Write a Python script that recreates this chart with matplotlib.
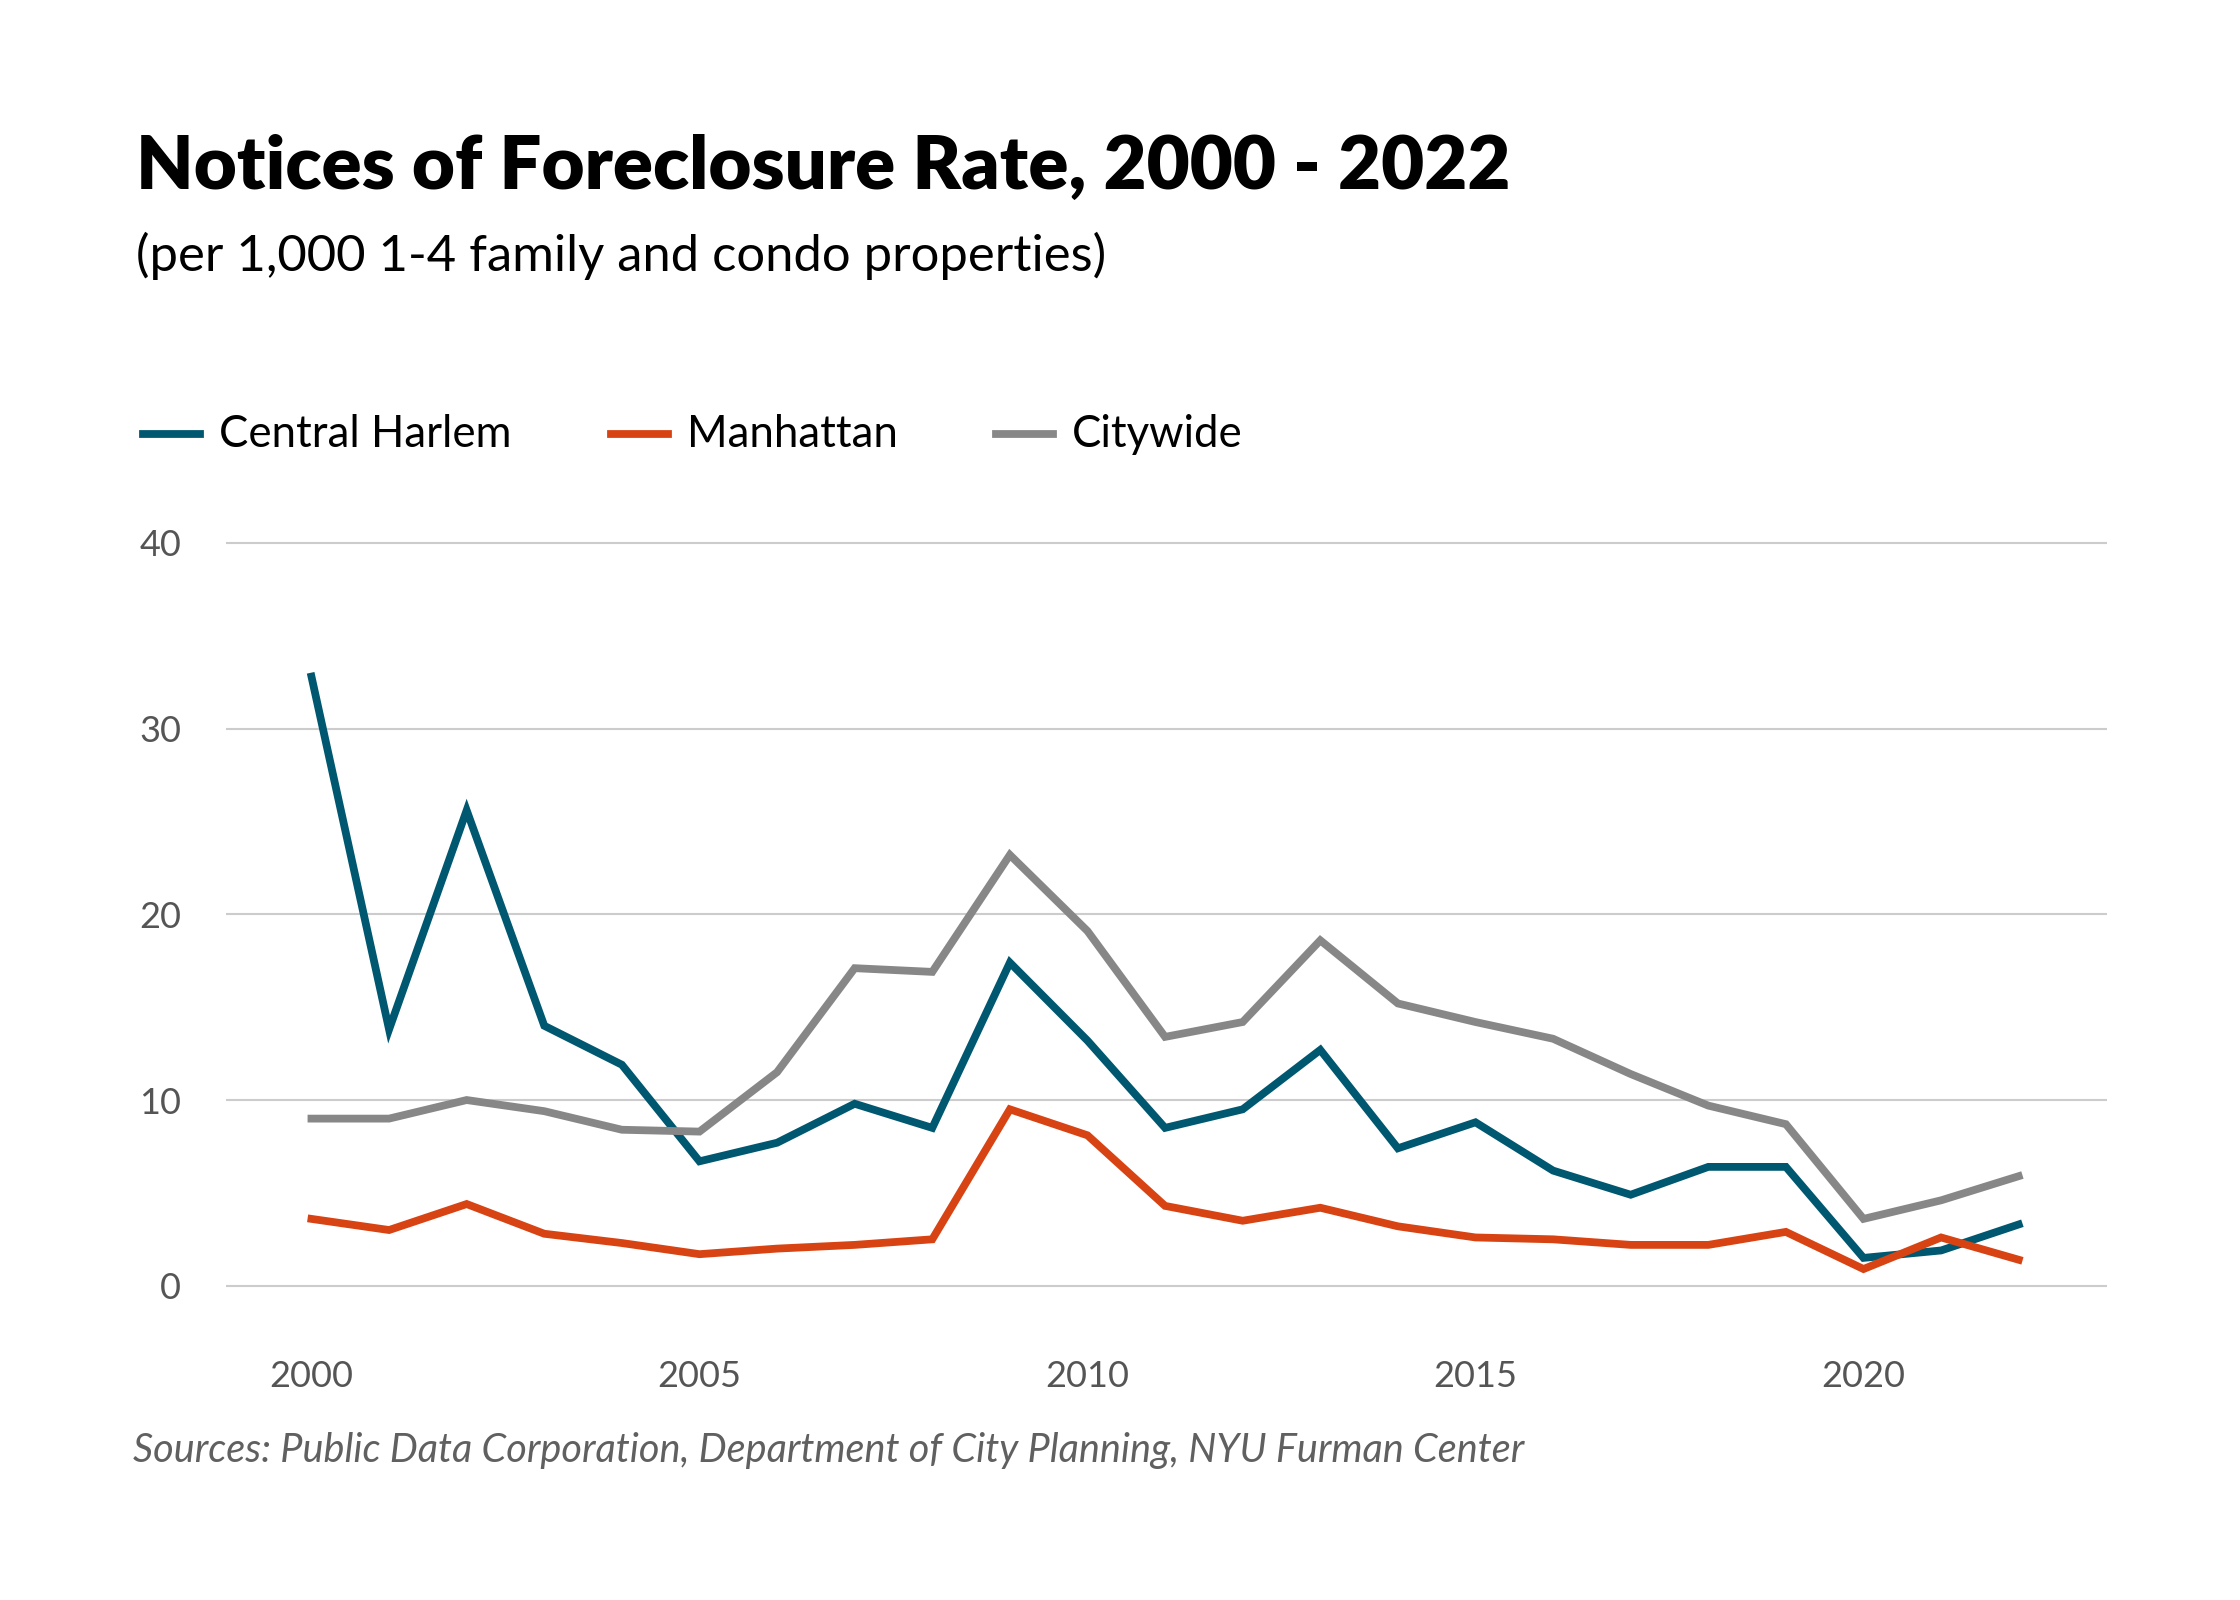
import matplotlib
matplotlib.use("Agg")
import matplotlib.pyplot as plt
from matplotlib.lines import Line2D

# data
years = list(range(2000, 2023))
central_harlem = [32.8, 13.8, 25.6, 14.0, 11.9, 6.7, 7.7, 9.8, 8.5, 17.4, 13.2, 8.5,
                  9.5, 12.7, 7.4, 8.8, 6.2, 4.9, 6.4, 6.4, 1.5, 1.9, 3.3]
manhattan = [3.6, 3.0, 4.4, 2.8, 2.3, 1.7, 2.0, 2.2, 2.5, 9.5, 8.1, 4.3,
             3.5, 4.2, 3.2, 2.6, 2.5, 2.2, 2.2, 2.9, 0.9, 2.6, 1.4]
citywide = [9.0, 9.0, 10.0, 9.4, 8.4, 8.3, 11.5, 17.1, 16.9, 23.2, 19.1, 13.4,
            14.2, 18.6, 15.2, 14.2, 13.3, 11.4, 9.7, 8.7, 3.6, 4.6, 5.9]

series_names = ["Central Harlem", "Manhattan", "Citywide"]
series_colors = ["#005770", "#d84313", "#878787"]
y_ticks = [0, 10, 20, 30, 40]
x_ticks = [2000, 2005, 2010, 2015, 2020]

plt.rcParams['font.family'] = ['Lato', 'DejaVu Sans']

fig = plt.figure(figsize=(22.4, 16), dpi=100)
ax = fig.add_axes([0.1008, 0.1848, 0.8399, 0.4875])

for vals, col in zip([central_harlem, manhattan, citywide], series_colors):
    ax.plot(years, vals, color=col, lw=5.6, solid_joinstyle='miter', zorder=3)

ax.set_xlim(1998.896, 2023.14)
ax.set_ylim(-1, 41)
ax.set_yticks(y_ticks)
ax.set_xticks(x_ticks)
ax.grid(axis='y', color='#cccccc', lw=1.5)
ax.grid(axis='x', visible=False)
for s in ax.spines.values():
    s.set_visible(False)
ax.tick_params(axis='y', length=0, pad=32, labelsize=26, labelcolor='#555555')
ax.tick_params(axis='x', length=0, pad=40, labelsize=26, labelcolor='#555555')

# title block
fig.text(0.0606, 0.8821, "Notices of Foreclosure Rate, 2000 - 2022", fontsize=53.5,
         fontweight='heavy', color='black', va='baseline')
fig.text(0.0606, 0.8306, "(per 1,000 1-4 family and condo properties)", fontsize=36.5,
         color='black', va='baseline')

# legend drawn by hand
leg_x = [0.0638, 0.2729, 0.4445]
leg_y = 0.7286
for x0, name, col in zip(leg_x, series_names, series_colors):
    fig.add_artist(Line2D([x0, x0 + 0.0255], [leg_y, leg_y], color=col, lw=5.6,
                          transform=fig.transFigure))
    fig.text(x0 + 0.0338, leg_y, name, fontsize=31.5, va='center', color='black')

fig.text(0.0593, 0.086, "Sources: Public Data Corporation, Department of City Planning, NYU Furman Center",
         fontsize=28.5, fontstyle='italic', color='#606060', va='baseline')

fig.savefig("out.png", dpi=100, facecolor='white')
